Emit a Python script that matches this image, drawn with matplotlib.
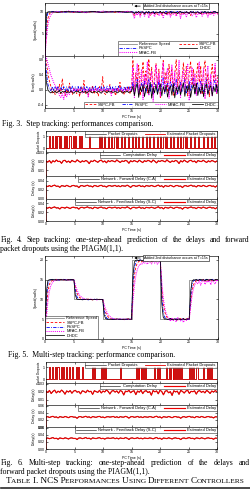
import numpy as np
import matplotlib
matplotlib.use('Agg')
import matplotlib.pyplot as plt

# ---------------- data ----------------
# Fig. 3 (step tracking) speed, units 0.1 rad/s; init (0.25 s grid), pre-15 s, post-15 s
ref3_t = [0, 0, 30]
ref3_v = [0, 10, 10]
sp3_rv_init = [0, 85, 98, 100]
sp3_rv_pre = [100, 101, 100, 99, 100, 101, 100, 100, 99, 100, 101, 100, 99, 100, 100, 101, 100, 99, 100, 100]
sp3_rv_post = [100, 98, 101, 99, 97, 100, 101, 99, 98, 100, 101, 97, 100, 99, 101, 98, 100, 99, 97, 101,
               100, 98, 99, 101, 100, 97, 99, 101, 98, 100, 99, 101, 97, 100, 98, 101, 99, 100, 98, 97,
               101, 100, 99, 98, 101, 100, 97, 99, 101, 98, 100, 99, 101, 98, 100, 97, 101, 99, 100, 98]
sp3_ss_init = [0, 55, 85, 95, 99, 100]
sp3_ss_pre = [100, 99, 101, 100, 100, 99, 101, 100, 98, 100, 101, 100, 99, 100, 101, 99, 100, 100, 101, 100]
sp3_ss_post = [97, 92, 99, 95, 100, 93, 98, 100, 94, 99, 96, 100, 92, 98, 99, 95, 100, 94, 97, 99,
               93, 100, 96, 98, 95, 100, 92, 99, 97, 100, 94, 98, 99, 93, 100, 96, 97, 100, 95, 99,
               92, 98, 100, 94, 97, 99, 96, 100, 93, 98, 99, 95, 100, 94, 97, 100, 96, 98, 99, 95]
sp3_mf_init = [0, 40, 70, 85, 93, 97, 99, 100]
sp3_mf_pre = [101, 99, 100, 102, 99, 100, 101, 98, 100, 101, 99, 100, 102, 99, 100, 101, 99, 100, 101, 100]
sp3_mf_post = [95, 85, 98, 92, 100, 88, 97, 99, 90, 96, 100, 86, 98, 94, 99, 89, 97, 100, 91, 95,
               98, 87, 99, 96, 92, 100, 88, 97, 94, 99, 90, 96, 100, 85, 98, 93, 99, 89, 97, 95,
               100, 91, 96, 98, 87, 99, 94, 100, 90, 97, 95, 99, 88, 98, 93, 100, 92, 96, 99, 94]
sp3_dh_init = [0, 95, 100]
sp3_dh_pre = [100, 100, 99, 100, 101, 100, 100, 99, 100, 100, 101, 100, 99, 100, 100, 100, 101, 100, 99, 100]
sp3_dh_post = [99, 96, 100, 98, 101, 97, 100, 99, 95, 100, 98, 101, 97, 99, 100, 96, 100, 98, 99, 101,
               97, 100, 98, 95, 100, 99, 101, 97, 100, 98, 99, 96, 100, 101, 98, 99, 97, 100, 99, 96,
               101, 98, 100, 97, 99, 100, 98, 96, 100, 99, 101, 97, 100, 98, 99, 97, 100, 101, 98, 99]

# Fig. 3 lower panel, units 0.01
er3_rv_init = [88, 45, 15, 3, -2]
er3_rv_pre = [9, -3, 8, -2, 10, -3, 8, -2, 9, -4, 8, -2, 9, -3, 10, -2, 8, -3, 9, -2, 8, -3, 10, -2, 9, -3, 8, -2,
              9, -3, 10, -2, 8, -3, 9, -2, 8, -3, 10, -2, 9, -3, 8, -2, 9, -3, 10, -2, 8, -3, 9, -2, 8, -3, 10, -2]
er3_rv_post = [22, -6, 12, 28, -10, 6, 18, -4, 25, -8, 10, 30, -5, 14, -12, 20, 8, -6, 26, -3, 12, 32, -9, 5, 18, -7,
               24, 10, -4, 16, 28, -11, 6, 20, -5, 13, 27, -8, 9, 22, -3, 15, 30, -10, 7, 19, -6, 25, 11, -4, 17, 29,
               -9, 8, 21, -5, 14, 26, -7, 10]
er3_ss_init = [92, 70, 45, 25, 10]
er3_ss_pre = [-8, 2, -12, 5, -6, 15, -10, 30, -4, -15, 3, -8, 18, -5, -12, 6, -3, -10, 4, -18, 8, -6, 25, -9, -2, -14,
              5, -7, 12, -11, 3, -5, -16, 9, -4, 35, -8, -12, 2, -6, 14, -10, 4, -3, -15, 7, -5, 20, -9, -2, -13, 6,
              -4, 10, -11, 2]
er3_ss_post = [80, -10, 45, 20, 65, -15, 30, 75, 5, 50, -8, 82, 25, 60, -12, 40, 70, 10, 55, -20, 35, 78, 15, 48, -6,
               68, 22, 58, -14, 42, 80, 8, 52, -10, 30, 72, 18, 62, -16, 45, 76, 12, 55, -8, 38, 70, 20, 64, -12, 50,
               78, 6, 44, -18, 33, 68, 24, 58, -9, 40]
er3_mf_init = [95, 85, 70, 55, 40, 30, 20, 12, 6, 2]
er3_mf_pre = [-15, -20, -10, -25, -5, -18, -8, -12, 0, -6, 3, -4, 2, -3, 4, -2, -8, 3, -5, 2, -20, 4, -3, 2, -4, 3,
              -2, 5, -3, 2, -6, 3, -2, 4, -3, 2, -15, 3, -4, 2, -3, 5, -2, 3, -4, 2, -3, 4, -2, 3, -5]
er3_mf_post = [60, -20, 35, 70, -10, 25, 55, -25, 40, 15, 75, -15, 30, 50, -30, 20, 65, 5, 45, -18, 28, 72, -8, 38,
               58, -22, 18, 66, 2, 48, -12, 30, 78, -20, 25, 52, -6, 40, 68, -28, 22, 60, 8, 44, -14, 34, 74, -10,
               26, 56, -24, 36, 64, 0, 42, -16, 28, 70, -8, 32]
er3_dh_init = [60, 20, 0, -5, -8]
er3_dh_pre = [-4, -7, -3, -8, -5, -2, -9, -4, -6, -3, -8, -5, -7, -2, -6, -9, -4, -5, -3, -8, -6, -4, -7, -3, -9, -5,
              -2, -6, -8, -4, -5, -7, -3, -6, -9, -4, -2, -5, -8, -3, -6, -4, -7, -5, -3, -8, -6, -2, -5, -9, -4, -6,
              -3, -7, -5, -4]
er3_dh_post = [10, -15, 5, 18, -20, 8, -5, 14, -18, 3, 12, -10, 20, -22, 6, -8, 15, -12, 4, 16, -16, 9, -6, 13, -19,
               2, 11, -14, 17, -21, 7, -7, 12, -13, 5, 19, -17, 10, -4, 15, -20, 3, 14, -11, 18, -15, 6, -9, 13, -18,
               8, 16, -12, 4, 11, -16, 9, -5, 14, -10]

# Fig. 4 packet dropouts (pulse on/off times, s) and delays (ms)
drop4_on = [0.5, 1.0, 1.5, 2.0, 2.5, 3.1, 3.5, 4.1, 4.7, 5.1, 5.8, 6.2, 7.5, 9.3, 9.6, 10.2, 10.8, 11.4, 12.0, 12.5,
            13.1, 13.7, 14.3, 15.0, 15.6, 16.2, 16.8, 17.5, 18.1, 18.7, 19.4, 20.0, 20.6, 21.1, 21.7, 22.3, 22.9,
            23.5, 24.1, 24.6, 25.3, 25.9, 26.6, 27.5, 28.2, 28.9, 29.5]
drop4_off = [0.7, 1.2, 1.7, 2.2, 2.7, 3.3, 3.7, 4.3, 4.9, 5.3, 6.0, 6.4, 7.7, 9.45, 9.8, 10.4, 11.0, 11.6, 12.2, 12.7,
             13.3, 13.9, 14.5, 15.2, 15.8, 16.4, 17.0, 17.7, 18.3, 18.9, 19.6, 20.2, 20.8, 21.3, 21.9, 22.5, 23.1,
             23.7, 24.3, 24.8, 25.5, 26.1, 26.8, 27.7, 28.4, 29.1, 29.7]
comp4 = [20.5, 19.2, 21.0, 18.1, 20.8, 19.5, 21.6, 19.9, 20.2, 17.8, 20.9, 21.3, 19.1, 20.4, 18.6, 21.2, 20.0, 19.4,
         21.8, 20.3, 18.9, 20.7, 19.6, 21.1, 20.1, 17.5, 20.6, 19.8, 21.4, 20.2, 19.0, 20.8, 21.5, 19.3, 20.5, 18.4,
         20.9, 19.7, 21.0, 20.3, 19.5, 21.7, 20.1, 18.8, 20.6, 19.9, 21.2, 20.4, 17.9, 20.8, 19.6, 21.0, 20.2, 19.3,
         21.4, 20.0, 18.7, 20.9, 19.8, 21.3, 20.5, 19.1, 21.6, 20.2, 18.3, 20.7, 19.9, 21.1, 20.4, 19.5, 21.8, 20.0,
         18.9, 20.6, 19.7, 21.2, 20.3, 17.6, 20.8, 19.4, 21.5, 20.1, 19.0, 20.9, 21.3, 19.6, 20.5, 18.5, 21.0, 20.2,
         19.8, 21.4, 20.0, 18.8, 20.7, 19.5, 21.1, 20.3, 19.2, 20.6]
fwd4 = [28.5, 27.1, 29.3, 26.8, 28.9, 30.2, 27.6, 28.1, 25.4, 29.0, 28.4, 27.3, 29.7, 28.0, 26.5, 28.8, 29.5, 27.9,
        28.3, 24.8, 28.7, 29.1, 27.4, 28.6, 30.0, 27.8, 28.2, 26.1, 29.4, 28.5, 27.0, 28.9, 29.8, 27.5, 28.1, 25.9,
        28.6, 29.2, 27.7, 28.4, 29.6, 27.2, 28.8, 26.7, 29.0, 28.3, 27.9, 30.1, 28.0, 25.2, 28.7, 29.3, 27.6, 28.2,
        29.9, 27.1, 28.5, 26.3, 29.1, 28.4, 27.8, 29.5, 28.1, 26.9, 28.6, 30.3, 27.4, 28.8, 25.6, 29.2, 28.0, 27.5,
        29.7, 28.3, 26.4, 28.9, 29.4, 27.7, 28.2, 24.9, 28.6, 29.0, 27.3, 28.7, 30.1, 27.9, 28.4, 26.2, 29.3, 28.5,
        27.2, 29.8, 28.1, 26.8, 28.8, 29.6, 27.6, 28.3, 25.8, 28.9]
fb4 = [30.4, 29.1, 31.2, 28.7, 30.8, 32.0, 29.5, 30.1, 27.3, 31.0, 30.5, 29.2, 31.6, 30.0, 28.4, 30.9, 31.4, 29.8,
       30.3, 27.0, 30.7, 31.1, 29.4, 30.6, 32.1, 29.7, 30.2, 28.0, 31.3, 30.4, 29.0, 30.8, 31.7, 29.5, 30.0, 27.8,
       30.6, 31.2, 29.6, 30.3, 31.5, 29.1, 30.7, 28.6, 31.0, 30.2, 29.8, 32.2, 30.0, 27.4, 30.6, 31.2, 29.5, 30.1,
       31.8, 29.0, 30.4, 28.2, 31.0, 30.3, 29.7, 31.4, 30.0, 28.8, 30.5, 32.3, 29.3, 30.7, 27.6, 31.1, 29.9, 29.4,
       31.6, 30.2, 28.3, 30.8, 31.3, 29.6, 30.1, 26.9, 30.5, 30.9, 29.2, 30.6, 32.0, 29.8, 30.3, 28.1, 31.2, 30.4,
       29.1, 31.7, 30.0, 28.7, 30.7, 31.5, 29.5, 30.2, 27.7, 30.8]

# Fig. 5 multi-step, units 0.1 rad/s on a 0.25 s grid
ref5_t = [0, 0, 5, 10, 15, 20, 25, 30]
ref5_v = [0, 15, 10, 5, 20, 5, 15, 15]
sp5_dh = [0, 120, 148, 150, 150, 151, 150, 150, 149, 150, 150, 151, 150, 150, 150, 149, 150, 150, 151, 150,
          150, 112, 101, 100, 100, 100, 99, 100, 100, 101, 100, 100, 100, 99, 100, 100, 101, 100, 100, 100,
          100, 62, 52, 50, 50, 50, 50, 49, 50, 50, 51, 50, 50, 50, 49, 50, 50, 50, 51, 50,
          50, 160, 195, 199, 200, 198, 200, 199, 197, 200, 201, 198, 200, 199, 197, 200, 199, 201, 198, 200,
          200, 90, 55, 50, 51, 49, 50, 52, 49, 50, 51, 48, 50, 51, 49, 50, 52, 49, 50, 51,
          50, 120, 146, 150, 149, 151, 148, 150, 151, 149, 150, 148, 151, 150, 149, 151, 150, 148, 150, 151, 150]
sp5_rv = [0, 100, 140, 148, 150, 150, 150, 151, 150, 150, 149, 150, 150, 151, 150, 150, 150, 149, 150, 150,
          150, 125, 108, 102, 100, 100, 100, 101, 100, 100, 99, 100, 100, 100, 101, 100, 100, 100, 99, 100,
          100, 75, 58, 52, 50, 50, 50, 51, 50, 50, 49, 50, 50, 50, 51, 50, 50, 50, 49, 50,
          50, 140, 182, 195, 198, 199, 200, 198, 199, 200, 197, 199, 200, 198, 199, 200, 198, 199, 200, 199,
          199, 110, 68, 55, 51, 50, 49, 51, 50, 48, 50, 51, 49, 50, 50, 48, 51, 50, 49, 50,
          50, 105, 138, 147, 149, 150, 149, 151, 148, 150, 150, 149, 151, 150, 148, 150, 151, 149, 150, 150, 149]
sp5_ss = [0, 75, 120, 138, 145, 148, 150, 150, 151, 150, 150, 150, 149, 150, 150, 151, 150, 150, 150, 150,
          150, 132, 118, 110, 105, 103, 101, 100, 100, 100, 101, 100, 100, 99, 100, 100, 100, 101, 100, 100,
          100, 82, 68, 60, 55, 52, 51, 50, 50, 50, 51, 50, 50, 49, 50, 50, 50, 51, 50, 50,
          50, 115, 160, 182, 192, 196, 198, 195, 199, 197, 200, 196, 199, 198, 195, 199, 200, 197, 198, 199,
          198, 130, 90, 70, 58, 53, 51, 49, 52, 48, 50, 51, 47, 50, 52, 49, 50, 48, 51, 50,
          50, 90, 122, 137, 144, 148, 146, 150, 147, 149, 151, 146, 150, 148, 149, 151, 147, 150, 149, 150, 148]
sp5_mf = [0, 55, 95, 120, 135, 142, 146, 148, 149, 150, 150, 150, 151, 150, 150, 150, 149, 150, 150, 150,
          150, 138, 126, 117, 111, 107, 104, 102, 101, 100, 100, 100, 101, 100, 100, 100, 99, 100, 100, 100,
          100, 88, 76, 67, 61, 57, 54, 52, 51, 50, 50, 50, 51, 50, 50, 49, 50, 50, 50, 50,
          50, 95, 135, 160, 175, 185, 190, 188, 194, 191, 196, 189, 197, 193, 190, 198, 192, 195, 189, 196,
          195, 145, 105, 80, 65, 57, 52, 45, 54, 47, 50, 43, 55, 48, 46, 52, 42, 50, 47, 53,
          48, 80, 110, 128, 138, 144, 140, 148, 136, 146, 150, 138, 147, 143, 150, 137, 149, 145, 139, 150, 146]

# Fig. 6 packet dropouts and delays (ms)
drop6_on = [0.5, 1.0, 1.6, 2.0, 2.6, 3.0, 3.5, 4.0, 4.5, 5.2, 5.6, 6.3, 8.1, 8.4, 9.6, 10.0, 10.4, 13.0, 15.8, 16.1,
            16.4, 16.7, 17.0, 17.3, 19.0, 19.4, 19.8, 21.0, 21.6, 22.0, 22.3, 22.6, 23.0, 23.3, 23.6, 25.0, 25.4,
            25.8, 26.4, 27.5, 28.2, 28.6, 29.0]
drop6_off = [0.7, 1.2, 1.8, 2.2, 2.8, 3.2, 3.7, 4.2, 4.7, 5.4, 5.8, 6.5, 8.25, 8.6, 9.8, 10.2, 10.6, 13.2, 16.0, 16.3,
             16.6, 16.9, 17.2, 17.5, 19.2, 19.6, 20.0, 21.2, 21.8, 22.2, 22.5, 22.8, 23.2, 23.5, 23.8, 25.2, 25.6,
             26.0, 26.6, 27.7, 28.4, 28.8, 29.2]
comp6 = [20.8, 19.0, 21.5, 17.6, 20.3, 21.9, 18.4, 20.6, 19.2, 22.0, 20.1, 16.8, 20.9, 19.5, 21.3, 18.0, 20.7, 21.6,
         19.3, 20.2, 17.2, 21.0, 20.4, 18.7, 21.8, 19.8, 20.5, 16.5, 21.2, 20.0, 19.1, 21.7, 18.3, 20.8, 19.6, 22.1,
         20.3, 17.0, 20.6, 21.4, 19.4, 20.9, 18.1, 21.5, 20.2, 15.8, 20.7, 19.9, 21.6, 18.6, 20.4, 21.1, 16.2, 20.8,
         19.3, 21.9, 17.5, 20.5, 21.2, 18.9, 20.1, 15.5, 21.4, 19.7, 20.9, 17.3, 21.8, 20.2, 16.0, 20.6, 21.3, 18.5,
         20.0, 15.2, 21.1, 19.6, 20.7, 16.6, 21.5, 20.3, 18.2, 20.8, 21.7, 17.8, 20.4, 19.9, 21.0, 16.9, 20.6, 21.2,
         19.1, 20.5, 18.4, 21.6, 20.1, 17.7, 20.9, 19.4, 21.3, 20.0]
fwd6 = [28.2, 29.0, 26.9, 28.7, 30.1, 27.4, 28.5, 25.6, 29.2, 28.1, 27.0, 29.6, 28.3, 26.2, 28.9, 29.4, 27.8, 28.0,
        24.6, 28.8, 29.3, 27.2, 28.4, 30.2, 27.6, 28.6, 25.8, 29.5, 28.2, 27.3, 29.1, 29.9, 27.1, 28.3, 26.0, 28.5,
        29.0, 27.9, 28.6, 29.7, 27.0, 28.9, 26.4, 29.2, 28.0, 27.7, 30.0, 28.4, 25.0, 28.6, 29.4, 27.5, 28.1, 29.8,
        27.3, 28.7, 26.6, 29.0, 28.2, 27.6, 29.3, 28.5, 26.7, 28.8, 30.4, 27.2, 28.6, 25.3, 29.1, 28.2, 27.4, 29.6,
        28.1, 26.2, 28.7, 29.5, 27.8, 28.0, 24.7, 28.4, 29.2, 27.1, 28.9, 30.0, 27.7, 28.3, 26.0, 29.4, 28.6, 27.0,
        29.7, 28.2, 26.6, 28.7, 29.5, 27.8, 28.1, 25.5, 28.8, 28.4]
fb6 = [30.2, 31.0, 28.9, 30.6, 32.1, 29.3, 30.4, 27.5, 31.2, 30.1, 29.0, 31.5, 30.3, 28.1, 30.8, 31.3, 29.7, 30.0,
       26.8, 30.9, 31.2, 29.2, 30.4, 32.2, 29.5, 30.5, 27.7, 31.4, 30.2, 29.3, 31.0, 31.8, 29.1, 30.3, 27.9, 30.5,
       31.0, 29.8, 30.6, 31.6, 29.0, 30.9, 28.3, 31.2, 30.0, 29.6, 32.0, 30.4, 27.1, 30.6, 31.3, 29.4, 30.1, 31.7,
       29.2, 30.7, 28.5, 31.0, 30.2, 29.5, 31.3, 30.4, 28.6, 30.8, 32.4, 29.1, 30.6, 27.3, 31.0, 30.2, 29.3, 31.6,
       30.1, 28.2, 30.7, 31.4, 29.7, 30.0, 26.7, 30.4, 31.1, 29.1, 30.9, 32.0, 29.6, 30.3, 28.0, 31.3, 30.6, 29.0,
       31.6, 30.2, 28.5, 30.7, 31.5, 29.7, 30.1, 27.4, 30.8, 30.4]

xticks = [0, 5, 10, 15, 20, 25, 30]
ctrl_labels = ['Reference Speed', 'SSPC-FB', 'RVSPC', 'MFAC-FB', 'DHDC']

# ---------------- styling ----------------
W, H = 250, 494
plt.rcParams.update({
    'font.family': ['Liberation Sans', 'DejaVu Sans'],
    'font.size': 2.6,
    'axes.linewidth': 0.45,
    'xtick.direction': 'in', 'ytick.direction': 'in',
    'xtick.major.size': 1.3, 'ytick.major.size': 1.3,
    'xtick.major.width': 0.4, 'ytick.major.width': 0.4,
    'xtick.major.pad': 1.0, 'ytick.major.pad': 1.0,
    'xtick.labelsize': 2.6, 'ytick.labelsize': 2.6,
    'xtick.top': True, 'ytick.right': True,
    'legend.fontsize': 2.9,
})
fig = plt.figure(figsize=(W / 100, H / 100), dpi=100)
fig.patch.set_facecolor('white')

C_REF, C_SS, C_RV, C_MF, C_DH = '#808080', '#ff0000', '#0000ff', '#ff00ff', '#000000'
STY = {'ref': dict(color=C_REF, ls='-', lw=0.55),
       'ss': dict(color=C_SS, ls=(0, (3, 2)), lw=0.6),
       'rv': dict(color=C_RV, ls=(0, (4, 1.5, 1, 1.5)), lw=0.6),
       'mf': dict(color=C_MF, ls=(0, (1, 1)), lw=0.75),
       'dh': dict(color=C_DH, ls='-', lw=0.55)}


def ax_px(l, t, r, b):
    return fig.add_axes([l / W, 1 - b / H, (r - l) / W, (b - t) / H])


def seg(init, pre, post, dt=0.25, tm=15.0, te=30.0):
    t0 = np.arange(len(init)) * dt
    t1 = np.linspace(len(init) * dt, tm, len(pre))
    t2 = np.linspace(tm + dt, te, len(post))
    return np.concatenate([t0, t1, t2]), np.array(init + pre + post, dtype=float)


def pulses(on, off):
    x, y = [0.0], [0.0]
    for a, b in zip(on, off):
        x += [a, a, b, b]
        y += [0, 1, 1, 0]
    x.append(30.0)
    y.append(0.0)
    return np.array(x), np.array(y)


def leg(ax, hl=3.0, cs=1.2, **kw):
    lg = ax.legend(frameon=True, fancybox=False, handlelength=hl, handletextpad=0.5,
                   borderpad=0.2, labelspacing=0.08, columnspacing=cs, borderaxespad=0.12, **kw)
    lg.get_frame().set_edgecolor('black')
    lg.get_frame().set_linewidth(0.4)
    return lg


def time_axis(ax, labels=True):
    ax.set_xlim(0, 30)
    ax.set_xticks(xticks)
    if labels:
        ax.set_xlabel('PC Time (s)', labelpad=0.8)
    else:
        ax.set_xticklabels([])


# ---------------- Fig. 3 ----------------
a = ax_px(45, 3, 218, 56)
a.plot(ref3_t, ref3_v, label=ctrl_labels[0], **STY['ref'])
for key, (i, p, q), lab in [('ss', (sp3_ss_init, sp3_ss_pre, sp3_ss_post), 'SSPC-FB'),
                            ('rv', (sp3_rv_init, sp3_rv_pre, sp3_rv_post), 'RVSPC'),
                            ('mf', (sp3_mf_init, sp3_mf_pre, sp3_mf_post), 'MFAC-FB'),
                            ('dh', (sp3_dh_init, sp3_dh_pre, sp3_dh_post), 'DHDC')]:
    tt, vv = seg(i, p, q)
    a.plot(tt, vv / 10, label=lab, **STY[key])
time_axis(a, False)
a.set_ylim(0, 12)
a.set_yticks([0, 5, 10])
a.set_ylabel('Speed(rad/s)', labelpad=1.5)
h, l = a.get_legend_handles_labels()
order = [0, 2, 3, 1, 4]
leg(a, hl=4.5, cs=2.2, handles=[h[k] for k in order], labels=[l[k] for k in order], ncol=2, loc='lower right')
a.annotate('Added 2nd disturbance occurs at T=15s', xy=(15, 11.3), xytext=(17.2, 11.3), va='center',
           bbox=dict(boxstyle='square,pad=0.25', fc='white', ec='black', lw=0.4),
           arrowprops=dict(arrowstyle='-|>', color='black', lw=0.5, mutation_scale=3))

b = ax_px(45, 56, 218, 108)
for key, (i, p, q), lab in [('ss', (er3_ss_init, er3_ss_pre, er3_ss_post), 'SSPC-FB'),
                            ('rv', (er3_rv_init, er3_rv_pre, er3_rv_post), 'RVSPC'),
                            ('mf', (er3_mf_init, er3_mf_pre, er3_mf_post), 'MFAC-FB'),
                            ('dh', (er3_dh_init, er3_dh_pre, er3_dh_post), 'DHDC')]:
    tt, vv = seg(i, p, q)
    b.plot(tt, vv / 100, label=lab, **STY[key])
time_axis(b)
b.set_ylim(-0.48, 0.9)
b.set_yticks([-0.4, 0.0, 0.4, 0.8])
b.set_yticklabels(['-0.4', '0.0', '0.4', '0.8'])
b.set_ylabel('Error(rad/s)', labelpad=1.0)
leg(b, hl=2.8, cs=1.5, ncol=4, loc='lower right')


# ---------------- delay figures ----------------
def delay_fig(tops, on, off, comp, fwd, fb, big):
    t_d = np.linspace(0, 30, len(comp))
    axs = []
    for k in range(4):
        axs.append(ax_px(46, tops[k], 217, tops[k + 1]))
    a1, a2, a3, a4 = axs
    px, py = pulses(on, off)
    a1.plot(px, py, color='black', lw=0.4, label='Packet Dropouts')
    a1.plot(px, py, color='#e00000', lw=0.6, label='Estimated Packet Dropouts')
    a1.set_ylim(-0.3, 1.45)
    a1.set_yticks([0, 1])
    a1.set_ylabel('Packet Dropouts', labelpad=1.5, fontsize=2.2)
    leg(a1, hl=5.0, cs=2.0, ncol=2, loc='upper right')
    for ax, data, lab, yl in [(a2, comp, 'Computation Delay', 'Delay(s)'),
                              (a3, fwd, 'Network - Forward Delay (C-A)', 'Delay (s)'),
                              (a4, fb, 'Network - Feedback Delay (S-C)', 'Delay(s)')]:
        d = np.array(data) / 1000.0
        ax.plot(t_d, d, color='black', lw=0.4, label=lab)
        ax.plot(np.concatenate([[0.0], t_d]), np.concatenate([[0.0], d]), color='#ee0000', lw=0.85,
                label='Estimated Delay')
        ax.set_ylabel(yl, labelpad=1.0)
        leg(ax, hl=5.0, cs=2.0, ncol=2, loc='upper right')
    a2.set_ylim(0.003, 0.031)
    a2.set_yticks([0.01, 0.02, 0.03])
    top = 0.062 if big else 0.05
    for ax in (a3, a4):
        ax.set_ylim(0, top)
        ax.set_yticks([0, 0.02, 0.04, 0.06] if big else [0, 0.02, 0.04])
    for ax in (a1, a2, a3):
        time_axis(ax, False)
    time_axis(a4)
    for ax in (a2, a3, a4):
        ax.yaxis.set_major_formatter(matplotlib.ticker.FormatStrFormatter('%.2f'))


delay_fig([131, 152, 176, 199, 221], drop4_on, drop4_off, comp4, fwd4, fb4, False)

# ---------------- Fig. 5 ----------------
c = ax_px(45, 256, 218, 339)
c.step(ref5_t, ref5_v, where='post', label=ctrl_labels[0], **STY['ref'])
t5 = np.linspace(0, 30, len(sp5_dh))
for key, arr, lab in [('ss', sp5_ss, 'SSPC-FB'), ('rv', sp5_rv, 'RVSPC'),
                      ('mf', sp5_mf, 'MFAC-FB'), ('dh', sp5_dh, 'DHDC')]:
    c.plot(t5, np.array(arr) / 10, label=lab, **STY[key])
time_axis(c)
c.set_ylim(0, 21)
c.set_yticks([0, 5, 10, 15, 20])
c.set_ylabel('Speed(rad/s)', labelpad=1.5)
leg(c, hl=4.5, ncol=1, loc='lower left')
c.annotate('Added 2nd disturbance occurs at T=15s', xy=(15, 20.5), xytext=(17.2, 20.5), va='center',
           bbox=dict(boxstyle='square,pad=0.25', fc='white', ec='black', lw=0.4),
           arrowprops=dict(arrowstyle='-|>', color='black', lw=0.5, mutation_scale=3))

# ---------------- Fig. 6 ----------------
delay_fig([362, 383, 405, 427, 449], drop6_on, drop6_off, comp6, fwd6, fb6, True)

# ---------------- captions ----------------
renderer = fig.canvas.get_renderer()
SERIF = ['Liberation Serif', 'DejaVu Serif']
CAP = 5.6


def text_w(s, size):
    t = fig.text(0, 0, s, fontsize=size, family=SERIF)
    w = t.get_window_extent(renderer).width
    t.remove()
    return w


def line(s, x_px, y_px, size=CAP):
    fig.text(x_px / W, 1 - y_px / H, s, fontsize=size, family=SERIF, va='baseline', ha='left')


def justify(s, y_px, x0=0.5, x1=249.5, size=CAP):
    words = s.split()
    ws = [text_w(w, size) for w in words]
    gap = (x1 - x0 - sum(ws)) / (len(words) - 1)
    x = x0
    for w, wd in zip(words, ws):
        line(w, x, y_px, size)
        x += wd + gap


def smallcaps(segs, cx, y_px, size=CAP):
    parts = []
    for s, big in segs:
        sz = size if big else size * 0.8
        parts.append((s, sz, text_w(s, sz)))
    tot = sum(p[2] for p in parts)
    x = cx - tot / 2
    for s, sz, wd in parts:
        line(s, x, y_px, sz)
        x += wd


line('Fig. 3.  Step tracking: performances comparison.', 2, 126)
justify('Fig. 4.  Step tracking: one-step-ahead prediction of the delays and forward', 242)
line('packet dropouts using the PIAGM(1,1).', 0.5, 251)
line('Fig. 5.  Multi-step tracking: performance comparison.', 8, 357)
justify('Fig. 6.  Multi-step tracking: one-step-ahead prediction of the delays and', 465)
line('forward packet dropouts using the PIAGM(1,1).', 0.5, 474)
smallcaps([('T', True), ('ABLE ', False), ('I. NCS P', True), ('ERFORMANCES ', False), ('U', True),
           ('SING ', False), ('D', True), ('IFFERENT ', False), ('C', True), ('ONTROLLERS', False)], 125, 483,
          size=6.6)
fig.add_artist(plt.Line2D([0, 1], [1 - 486.5 / H, 1 - 486.5 / H], color='black', lw=0.5))
fig.add_artist(plt.Line2D([0, 1], [1 - 488 / H, 1 - 488 / H], color='black', lw=0.5))

fig.savefig('out.png', dpi=100, facecolor='white')
